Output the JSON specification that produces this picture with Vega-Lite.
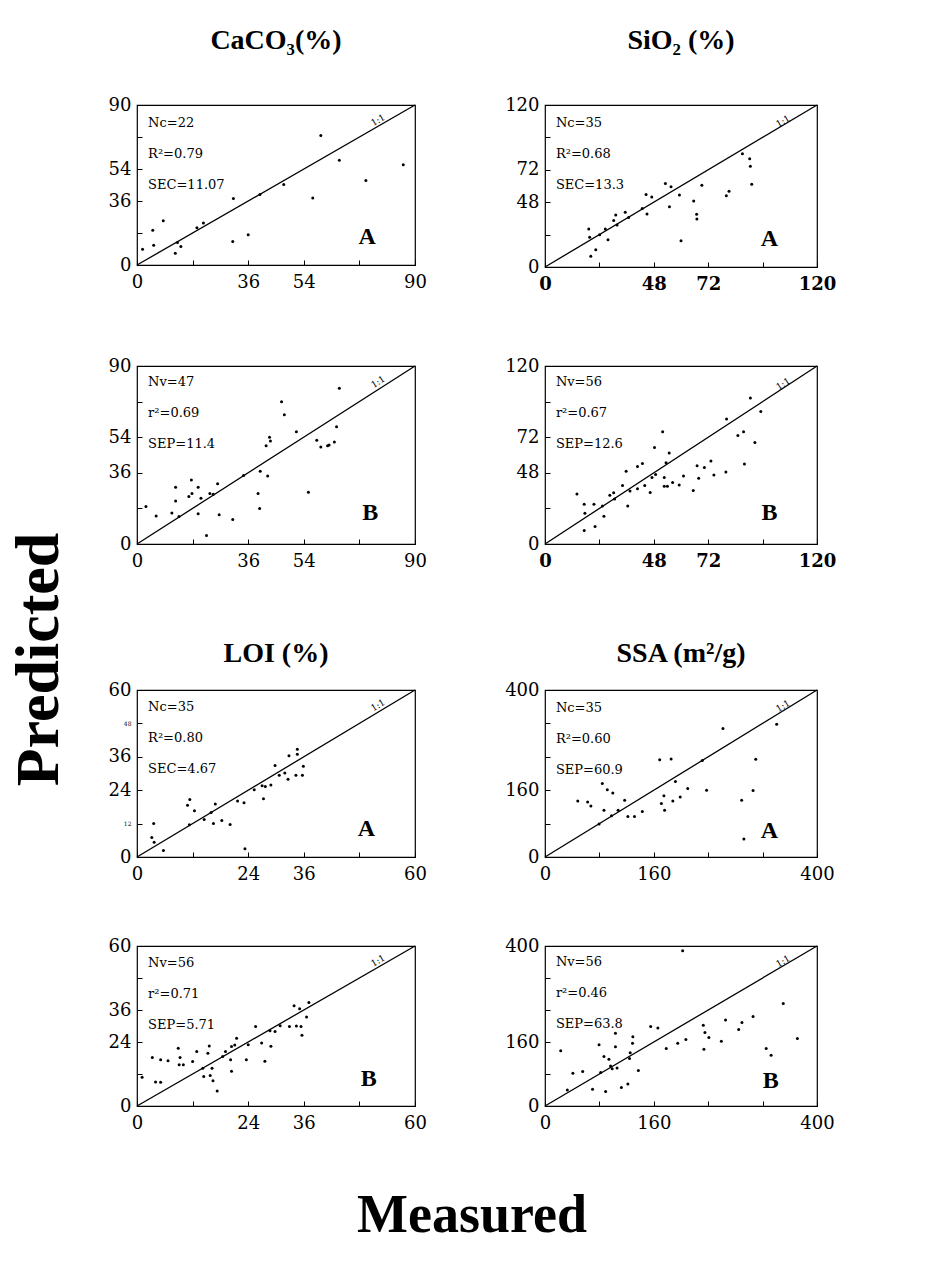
{
"$schema": "https://vega.github.io/schema/vega-lite/v6.json",
"background": "white",
"padding": {"left": 8, "top": 26, "right": 5, "bottom": 5},
"title": {"text": "Predicted", "orient": "left", "font": "Liberation Serif", "fontSize": 62, "fontWeight": "bold", "color": "black", "offset": 36, "anchor": "middle", "dy": 0, "dx": -25},
"datasets": {
"d90": [{"m": 0, "p": 0}, {"m": 90, "p": 90}],
"d120": [{"m": 0, "p": 0}, {"m": 120, "p": 120}],
"d60": [{"m": 0, "p": 0}, {"m": 60, "p": 60}],
"d400": [{"m": 0, "p": 0}, {"m": 400, "p": 400}],
"p1": [{"m":1.8,"p":8.9},{"m":5.4,"p":11.1},{"m":5.1,"p":19.6},{"m":8.5,"p":24.9},{"m":12.4,"p":6.6},{"m":13.1,"p":12.6},{"m":14.2,"p":10.4},{"m":19.4,"p":20.9},{"m":21.5,"p":23.6},{"m":31,"p":13.2},{"m":31.2,"p":37.4},{"m":36,"p":17},{"m":39.8,"p":39.6},{"m":47.5,"p":45.3},{"m":56.9,"p":37.7},{"m":59.5,"p":72.8},{"m":65.5,"p":58.9},{"m":74.1,"p":47.5},{"m":86.2,"p":56.4}],
"p2": [{"m":19.3,"p":28.2},{"m":19.7,"p":22.1},{"m":20.2,"p":7.9},{"m":22.4,"p":12.8},{"m":24.1,"p":23.8},{"m":26.6,"p":28.2},{"m":27.8,"p":20.1},{"m":30.3,"p":34.4},{"m":31.2,"p":38.5},{"m":31.8,"p":31.2},{"m":35.4,"p":40.5},{"m":36.9,"p":36.6},{"m":42.9,"p":43.4},{"m":44.6,"p":53.7},{"m":45.0,"p":39.3},{"m":47.1,"p":51.8},{"m":53.1,"p":61.8},{"m":55.6,"p":59.4},{"m":54.9,"p":44.7},{"m":59.3,"p":53.3},{"m":60,"p":19.4},{"m":65.6,"p":48.8},{"m":66.9,"p":39},{"m":67,"p":35.6},{"m":69.2,"p":60.6},{"m":81.2,"p":56.2},{"m":80.0,"p":52.8},{"m":87.1,"p":83.9},{"m":90.3,"p":80.2},{"m":90.6,"p":74.6},{"m":91.2,"p":61.3}],
"p3": [{"m":2.9,"p":19.0},{"m":6.2,"p":14.2},{"m":11.3,"p":15.7},{"m":12.5,"p":21.8},{"m":12.5,"p":28.7},{"m":13.6,"p":13.9},{"m":16.8,"p":24.0},{"m":17.6,"p":32.3},{"m":17.8,"p":25.5},{"m":19.8,"p":28.7},{"m":19.8,"p":15.3},{"m":20.7,"p":23.1},{"m":22.5,"p":4.3},{"m":23.6,"p":25.5},{"m":24.7,"p":25.1},{"m":26.1,"p":30.5},{"m":26.6,"p":14.8},{"m":31.0,"p":12.4},{"m":34.5,"p":34.6},{"m":39.2,"p":25.5},{"m":39.7,"p":17.9},{"m":39.9,"p":36.8},{"m":42.3,"p":34.4},{"m":41.8,"p":49.7},{"m":42.9,"p":54},{"m":43.2,"p":52.1},{"m":46.8,"p":71.9},{"m":47.7,"p":65.4},{"m":51.6,"p":56.7},{"m":55.5,"p":26.2},{"m":58.2,"p":52.4},{"m":59.5,"p":49.1},{"m":61.7,"p":49.7},{"m":62.2,"p":50.1},{"m":63.9,"p":51.6},{"m":64.6,"p":59.3},{"m":65.5,"p":78.7}],
"p4": [{"m":14.1,"p":33.7},{"m":17.3,"p":26.8},{"m":17.6,"p":20.7},{"m":17.3,"p":9.1},{"m":21.6,"p":26.8},{"m":22.1,"p":11.8},{"m":25.3,"p":25.6},{"m":26,"p":18.7},{"m":28.6,"p":32.8},{"m":30.3,"p":34.5},{"m":30.7,"p":30.3},{"m":34.2,"p":39.4},{"m":35.8,"p":49.0},{"m":36.5,"p":25.6},{"m":37.5,"p":35.7},{"m":40.8,"p":52.2},{"m":43,"p":54.2},{"m":40.8,"p":37.2},{"m":44,"p":39.4},{"m":46.4,"p":34.7},{"m":47.2,"p":44.8},{"m":48.3,"p":65.0},{"m":48.8,"p":46.8},{"m":51.9,"p":75.6},{"m":52.6,"p":44.8},{"m":53.4,"p":54.7},{"m":54.8,"p":61.3},{"m":52.6,"p":38.9},{"m":54.0,"p":38.9},{"m":56.3,"p":41.4},{"m":59.2,"p":39.7},{"m":61.1,"p":45.8},{"m":65.4,"p":36.0},{"m":67.1,"p":52.8},{"m":67.8,"p":44.4},{"m":70.3,"p":51.5},{"m":73.2,"p":55.9},{"m":74.5,"p":46.6},{"m":79.8,"p":48.5},{"m":80.1,"p":84.2},{"m":85.1,"p":73.1},{"m":87.6,"p":75.6},{"m":88.0,"p":53.9},{"m":92.6,"p":68.5},{"m":90.6,"p":98.5},{"m":95.2,"p":89.4}],
"p5": [{"m":3.2,"p":7.0},{"m":3.7,"p":5.3},{"m":3.6,"p":12.0},{"m":5.7,"p":2.3},{"m":10.9,"p":18.6},{"m":11.4,"p":20.7},{"m":12.4,"p":16.6},{"m":11.3,"p":11.6},{"m":14.5,"p":13.5},{"m":16,"p":16.0},{"m":16.5,"p":12.0},{"m":16.9,"p":19.0},{"m":18.3,"p":13.1},{"m":20.1,"p":11.7},{"m":21.7,"p":20.1},{"m":23.1,"p":19.5},{"m":23.3,"p":3.0},{"m":25.3,"p":24.2},{"m":27,"p":25.6},{"m":27.3,"p":20.9},{"m":27.7,"p":25.3},{"m":28.9,"p":25.9},{"m":29.8,"p":32.9},{"m":30.7,"p":29.4},{"m":31.9,"p":30.2},{"m":32.6,"p":27.9},{"m":32.8,"p":36.4},{"m":34.6,"p":36.9},{"m":34.6,"p":38.7},{"m":35.7,"p":29.4},{"m":35.9,"p":32.6},{"m":34.3,"p":29.4}],
"p6": [{"m":48.2,"p":134},{"m":62.7,"p":132},{"m":67.5,"p":122},{"m":84.3,"p":176},{"m":86.7,"p":112},{"m":91.6,"p":161},{"m":99.7,"p":153},{"m":97.8,"p":99},{"m":79.5,"p":79},{"m":107.5,"p":112},{"m":117.1,"p":136},{"m":121.9,"p":97},{"m":131.6,"p":97},{"m":143.1,"p":109},{"m":168.7,"p":233},{"m":185.5,"p":235},{"m":171.1,"p":128},{"m":174.9,"p":147},{"m":175.9,"p":112},{"m":188,"p":134},{"m":191.8,"p":181},{"m":198.8,"p":144},{"m":209.9,"p":164},{"m":231.3,"p":231},{"m":237.6,"p":160},{"m":261.7,"p":308},{"m":289.2,"p":136},{"m":306,"p":159},{"m":309.9,"p":234},{"m":292.5,"p":43},{"m":340.7,"p":318}],
"p7": [{"m":1.1,"p":10.8},{"m":3.3,"p":18.2},{"m":4.0,"p":9.0},{"m":5.1,"p":8.9},{"m":5.1,"p":17.3},{"m":6.7,"p":17.0},{"m":8.9,"p":21.7},{"m":9.3,"p":18.2},{"m":9.1,"p":15.5},{"m":10.0,"p":15.5},{"m":12,"p":16.7},{"m":12.9,"p":20.4},{"m":14.2,"p":14.2},{"m":14.4,"p":11.1},{"m":15.3,"p":19.8},{"m":15.6,"p":22.5},{"m":15.8,"p":11.4},{"m":16.2,"p":14.2},{"m":16.4,"p":9.5},{"m":17.3,"p":5.6},{"m":18.5,"p":18.6},{"m":19.1,"p":20.4},{"m":20.2,"p":17.3},{"m":20.4,"p":13.0},{"m":20.4,"p":22.3},{"m":21.1,"p":22.9},{"m":21.5,"p":25.4},{"m":23.6,"p":17.3},{"m":24.0,"p":23.0},{"m":25.6,"p":29.8},{"m":26.9,"p":23.6},{"m":27.6,"p":16.8},{"m":28.7,"p":28.2},{"m":28.9,"p":22.4},{"m":29.8,"p":27.9},{"m":30.9,"p":30.1},{"m":32.9,"p":29.8},{"m":33.9,"p":37.6},{"m":34.4,"p":30.0},{"m":35.4,"p":29.8},{"m":35.1,"p":36.5},{"m":35.6,"p":26.5},{"m":36.6,"p":33.4},{"m":37.1,"p":38.8}],
"p8": [{"m":23.1,"p":138},{"m":32.8,"p":40},{"m":41.0,"p":82},{"m":55.4,"p":86},{"m":69.9,"p":42},{"m":79.5,"p":153},{"m":81.9,"p":84},{"m":86.7,"p":124},{"m":89.2,"p":36},{"m":94,"p":117},{"m":96.4,"p":100},{"m":98.8,"p":93},{"m":103.6,"p":182},{"m":103.6,"p":148},{"m":106,"p":95},{"m":112.3,"p":46},{"m":121.9,"p":55},{"m":124.3,"p":119},{"m":125.3,"p":133},{"m":128.7,"p":157},{"m":129.2,"p":173},{"m":137.3,"p":89},{"m":155.4,"p":199},{"m":166,"p":195},{"m":178.3,"p":144},{"m":195.2,"p":157},{"m":202.4,"p":388},{"m":207.2,"p":166},{"m":232.8,"p":202},{"m":235.2,"p":184},{"m":241,"p":171},{"m":233.7,"p":142},{"m":259.3,"p":162},{"m":265.5,"p":215},{"m":284.8,"p":191},{"m":289.6,"p":209},{"m":306,"p":224},{"m":325.3,"p":144},{"m":332.5,"p":127},{"m":350.4,"p":256},{"m":371.1,"p":169}]
},
"config": {
"view": {"stroke": "black", "strokeWidth": 1.2},
"axis": {"domain": false, "grid": false, "tickColor": "black", "tickSize": -5, "tickWidth": 1, "labelFont": "DejaVu Serif", "labelFontSize": 18, "labelColor": "black", "labelPadding": 11, "labelFlush": false, "labelOverlap": false, "labelBound": false},
"axisX": {"labelPadding": 13},
"circle": {"color": "black", "size": 9, "opacity": 1},
"line": {"color": "black", "strokeWidth": 1.3},
"text": {"font": "DejaVu Serif", "fontSize": 13, "color": "black"},
"title": {"font": "Liberation Serif", "fontWeight": "bold", "color": "black"}
},
"vconcat": [{
"title": {"text": "Measured", "orient": "bottom", "font": "Liberation Serif", "fontSize": 54, "fontWeight": "bold", "offset": 56, "anchor": "middle"},
"spacing": 68,
"vconcat": [
{"spacing": 62, "vconcat": [
{"spacing": 76, "hconcat": [
{"width": 278, "height": 160,
 "title": {"text": "CaCO₃(%)", "fontSize": 28, "offset": 41, "frame": "group", "anchor": "middle"},
 "layer": [
  {"data": {"name": "d90"}, "mark": "line", "encoding": {
   "x": {"field": "m", "type": "quantitative", "scale": {"domain": [0, 90], "nice": false}, "axis": {"title": null, "labelOverlap": false, "values": [0, 18, 36, 54, 72, 90], "labelExpr": "datum.value==18||datum.value==72?'':datum.label"}},
   "y": {"field": "p", "type": "quantitative", "scale": {"domain": [0, 90], "nice": false}, "axis": {"title": null, "labelOverlap": false, "values": [0, 18, 36, 54, 72, 90], "labelExpr": "datum.value==18||datum.value==72?'':datum.label"}}}},
  {"data": {"name": "p1"}, "mark": "circle", "encoding": {
   "x": {"field": "m", "type": "quantitative", "axis": {"title": null, "labelOverlap": false, "values": [0, 18, 36, 54, 72, 90], "labelExpr": "datum.value==18||datum.value==72?'':datum.label"}},
   "y": {"field": "p", "type": "quantitative", "axis": {"title": null, "labelOverlap": false, "values": [0, 18, 36, 54, 72, 90], "labelExpr": "datum.value==18||datum.value==72?'':datum.label"}}}},
  {"data": {"values": [{}]}, "mark": {"type": "text", "text": ["Nc=22", "R²=0.79", "SEC=11.07"], "align": "left", "baseline": "top", "lineHeight": 31}, "encoding": {
   "x": {"datum": 3.6, "axis": {"title": null, "labelOverlap": false, "values": [0, 18, 36, 54, 72, 90], "labelExpr": "datum.value==18||datum.value==72?'':datum.label"}},
   "y": {"datum": 83, "axis": {"title": null, "labelOverlap": false, "values": [0, 18, 36, 54, 72, 90], "labelExpr": "datum.value==18||datum.value==72?'':datum.label"}}}},
  {"data": {"values": [{}]}, "mark": {"type": "text", "text": "A", "font": "Liberation Serif", "fontSize": 24, "fontWeight": "bold"}, "encoding": {
   "x": {"datum": 74.5, "axis": {"title": null, "labelOverlap": false, "values": [0, 18, 36, 54, 72, 90], "labelExpr": "datum.value==18||datum.value==72?'':datum.label"}},
   "y": {"datum": 15.5, "axis": {"title": null, "labelOverlap": false, "values": [0, 18, 36, 54, 72, 90], "labelExpr": "datum.value==18||datum.value==72?'':datum.label"}}}},
  {"data": {"values": [{}]}, "mark": {"type": "text", "text": "1:1", "fontSize": 9, "angle": -30}, "encoding": {
   "x": {"datum": 78, "axis": {"title": null, "labelOverlap": false, "values": [0, 18, 36, 54, 72, 90], "labelExpr": "datum.value==18||datum.value==72?'':datum.label"}},
   "y": {"datum": 81.5, "axis": {"title": null, "labelOverlap": false, "values": [0, 18, 36, 54, 72, 90], "labelExpr": "datum.value==18||datum.value==72?'':datum.label"}}}}
 ]},
{"width": 272, "height": 162,
 "title": {"text": "SiO₂ (%)", "fontSize": 28, "offset": 41, "frame": "group", "anchor": "middle"},
 "layer": [
  {"data": {"name": "d120"}, "mark": "line", "encoding": {
   "x": {"field": "m", "type": "quantitative", "scale": {"domain": [0, 120], "nice": false}, "axis": {"title": null, "labelOverlap": false, "values": [0, 24, 48, 72, 96, 120], "labelFontWeight": "bold", "labelExpr": "datum.value==24||datum.value==96?'':datum.label"}},
   "y": {"field": "p", "type": "quantitative", "scale": {"domain": [0, 120], "nice": false}, "axis": {"title": null, "labelOverlap": false, "values": [0, 24, 48, 72, 96, 120], "labelExpr": "datum.value==24||datum.value==96?'':datum.label"}}}},
  {"data": {"name": "p2"}, "mark": "circle", "encoding": {
   "x": {"field": "m", "type": "quantitative", "axis": {"title": null, "labelOverlap": false, "values": [0, 24, 48, 72, 96, 120], "labelFontWeight": "bold", "labelExpr": "datum.value==24||datum.value==96?'':datum.label"}},
   "y": {"field": "p", "type": "quantitative", "axis": {"title": null, "labelOverlap": false, "values": [0, 24, 48, 72, 96, 120], "labelExpr": "datum.value==24||datum.value==96?'':datum.label"}}}},
  {"data": {"values": [{}]}, "mark": {"type": "text", "text": ["Nc=35", "R²=0.68", "SEC=13.3"], "align": "left", "baseline": "top", "lineHeight": 31}, "encoding": {
   "x": {"datum": 4.8, "axis": {"title": null, "labelOverlap": false, "values": [0, 24, 48, 72, 96, 120], "labelFontWeight": "bold", "labelExpr": "datum.value==24||datum.value==96?'':datum.label"}},
   "y": {"datum": 111, "axis": {"title": null, "labelOverlap": false, "values": [0, 24, 48, 72, 96, 120], "labelExpr": "datum.value==24||datum.value==96?'':datum.label"}}}},
  {"data": {"values": [{}]}, "mark": {"type": "text", "text": "A", "font": "Liberation Serif", "fontSize": 24, "fontWeight": "bold"}, "encoding": {
   "x": {"datum": 99, "axis": {"title": null, "labelOverlap": false, "values": [0, 24, 48, 72, 96, 120], "labelFontWeight": "bold", "labelExpr": "datum.value==24||datum.value==96?'':datum.label"}},
   "y": {"datum": 21, "axis": {"title": null, "labelOverlap": false, "values": [0, 24, 48, 72, 96, 120], "labelExpr": "datum.value==24||datum.value==96?'':datum.label"}}}},
  {"data": {"values": [{}]}, "mark": {"type": "text", "text": "1:1", "fontSize": 9, "angle": -30}, "encoding": {
   "x": {"datum": 105, "axis": {"title": null, "labelOverlap": false, "values": [0, 24, 48, 72, 96, 120], "labelFontWeight": "bold", "labelExpr": "datum.value==24||datum.value==96?'':datum.label"}},
   "y": {"datum": 108, "axis": {"title": null, "labelOverlap": false, "values": [0, 24, 48, 72, 96, 120], "labelExpr": "datum.value==24||datum.value==96?'':datum.label"}}}}
 ]}
]},
{"spacing": 76, "hconcat": [
{"width": 278, "height": 178,
 "layer": [
  {"data": {"name": "d90"}, "mark": "line", "encoding": {
   "x": {"field": "m", "type": "quantitative", "scale": {"domain": [0, 90], "nice": false}, "axis": {"title": null, "labelOverlap": false, "values": [0, 18, 36, 54, 72, 90], "labelExpr": "datum.value==18||datum.value==72?'':datum.label"}},
   "y": {"field": "p", "type": "quantitative", "scale": {"domain": [0, 90], "nice": false}, "axis": {"title": null, "labelOverlap": false, "values": [0, 18, 36, 54, 72, 90], "labelExpr": "datum.value==18||datum.value==72?'':datum.label"}}}},
  {"data": {"name": "p3"}, "mark": "circle", "encoding": {
   "x": {"field": "m", "type": "quantitative", "axis": {"title": null, "labelOverlap": false, "values": [0, 18, 36, 54, 72, 90], "labelExpr": "datum.value==18||datum.value==72?'':datum.label"}},
   "y": {"field": "p", "type": "quantitative", "axis": {"title": null, "labelOverlap": false, "values": [0, 18, 36, 54, 72, 90], "labelExpr": "datum.value==18||datum.value==72?'':datum.label"}}}},
  {"data": {"values": [{}]}, "mark": {"type": "text", "text": ["Nv=47", "r²=0.69", "SEP=11.4"], "align": "left", "baseline": "top", "lineHeight": 31}, "encoding": {
   "x": {"datum": 3.6, "axis": {"title": null, "labelOverlap": false, "values": [0, 18, 36, 54, 72, 90], "labelExpr": "datum.value==18||datum.value==72?'':datum.label"}},
   "y": {"datum": 85, "axis": {"title": null, "labelOverlap": false, "values": [0, 18, 36, 54, 72, 90], "labelExpr": "datum.value==18||datum.value==72?'':datum.label"}}}},
  {"data": {"values": [{}]}, "mark": {"type": "text", "text": "B", "font": "Liberation Serif", "fontSize": 24, "fontWeight": "bold"}, "encoding": {
   "x": {"datum": 75.5, "axis": {"title": null, "labelOverlap": false, "values": [0, 18, 36, 54, 72, 90], "labelExpr": "datum.value==18||datum.value==72?'':datum.label"}},
   "y": {"datum": 15.5, "axis": {"title": null, "labelOverlap": false, "values": [0, 18, 36, 54, 72, 90], "labelExpr": "datum.value==18||datum.value==72?'':datum.label"}}}},
  {"data": {"values": [{}]}, "mark": {"type": "text", "text": "1:1", "fontSize": 9, "angle": -32}, "encoding": {
   "x": {"datum": 78, "axis": {"title": null, "labelOverlap": false, "values": [0, 18, 36, 54, 72, 90], "labelExpr": "datum.value==18||datum.value==72?'':datum.label"}},
   "y": {"datum": 82, "axis": {"title": null, "labelOverlap": false, "values": [0, 18, 36, 54, 72, 90], "labelExpr": "datum.value==18||datum.value==72?'':datum.label"}}}}
 ]},
{"width": 272, "height": 178,
 "layer": [
  {"data": {"name": "d120"}, "mark": "line", "encoding": {
   "x": {"field": "m", "type": "quantitative", "scale": {"domain": [0, 120], "nice": false}, "axis": {"title": null, "labelOverlap": false, "values": [0, 24, 48, 72, 96, 120], "labelFontWeight": "bold", "labelExpr": "datum.value==24||datum.value==96?'':datum.label"}},
   "y": {"field": "p", "type": "quantitative", "scale": {"domain": [0, 120], "nice": false}, "axis": {"title": null, "labelOverlap": false, "values": [0, 24, 48, 72, 96, 120], "labelExpr": "datum.value==24||datum.value==96?'':datum.label"}}}},
  {"data": {"name": "p4"}, "mark": "circle", "encoding": {
   "x": {"field": "m", "type": "quantitative", "axis": {"title": null, "labelOverlap": false, "values": [0, 24, 48, 72, 96, 120], "labelFontWeight": "bold", "labelExpr": "datum.value==24||datum.value==96?'':datum.label"}},
   "y": {"field": "p", "type": "quantitative", "axis": {"title": null, "labelOverlap": false, "values": [0, 24, 48, 72, 96, 120], "labelExpr": "datum.value==24||datum.value==96?'':datum.label"}}}},
  {"data": {"values": [{}]}, "mark": {"type": "text", "text": ["Nv=56", "r²=0.67", "SEP=12.6"], "align": "left", "baseline": "top", "lineHeight": 31}, "encoding": {
   "x": {"datum": 4.8, "axis": {"title": null, "labelOverlap": false, "values": [0, 24, 48, 72, 96, 120], "labelFontWeight": "bold", "labelExpr": "datum.value==24||datum.value==96?'':datum.label"}},
   "y": {"datum": 113, "axis": {"title": null, "labelOverlap": false, "values": [0, 24, 48, 72, 96, 120], "labelExpr": "datum.value==24||datum.value==96?'':datum.label"}}}},
  {"data": {"values": [{}]}, "mark": {"type": "text", "text": "B", "font": "Liberation Serif", "fontSize": 24, "fontWeight": "bold"}, "encoding": {
   "x": {"datum": 99, "axis": {"title": null, "labelOverlap": false, "values": [0, 24, 48, 72, 96, 120], "labelFontWeight": "bold", "labelExpr": "datum.value==24||datum.value==96?'':datum.label"}},
   "y": {"datum": 21, "axis": {"title": null, "labelOverlap": false, "values": [0, 24, 48, 72, 96, 120], "labelExpr": "datum.value==24||datum.value==96?'':datum.label"}}}},
  {"data": {"values": [{}]}, "mark": {"type": "text", "text": "1:1", "fontSize": 9, "angle": -32}, "encoding": {
   "x": {"datum": 105, "axis": {"title": null, "labelOverlap": false, "values": [0, 24, 48, 72, 96, 120], "labelFontWeight": "bold", "labelExpr": "datum.value==24||datum.value==96?'':datum.label"}},
   "y": {"datum": 108, "axis": {"title": null, "labelOverlap": false, "values": [0, 24, 48, 72, 96, 120], "labelExpr": "datum.value==24||datum.value==96?'':datum.label"}}}}
 ]}
]}
]},
{"spacing": 52, "vconcat": [
{"spacing": 76, "hconcat": [
{"width": 278, "height": 167,
 "title": {"text": "LOI (%)", "fontSize": 28, "offset": 13, "frame": "group", "anchor": "middle"},
 "layer": [
  {"data": {"name": "d60"}, "mark": "line", "encoding": {
   "x": {"field": "m", "type": "quantitative", "scale": {"domain": [0, 60], "nice": false}, "axis": {"title": null, "labelOverlap": false, "values": [0, 12, 24, 36, 48, 60], "labelExpr": "datum.value==12||datum.value==48?'':datum.label"}},
   "y": {"field": "p", "type": "quantitative", "scale": {"domain": [0, 60], "nice": false}, "axis": {"title": null, "labelOverlap": false, "values": [0, 12, 24, 36, 48, 60], "labelFontSize": {"condition": {"test": "datum.value==12||datum.value==48", "value": 6}, "value": 18}}}}},
  {"data": {"name": "p5"}, "mark": "circle", "encoding": {
   "x": {"field": "m", "type": "quantitative", "axis": {"title": null, "labelOverlap": false, "values": [0, 12, 24, 36, 48, 60], "labelExpr": "datum.value==12||datum.value==48?'':datum.label"}},
   "y": {"field": "p", "type": "quantitative", "axis": {"title": null, "labelOverlap": false, "values": [0, 12, 24, 36, 48, 60], "labelFontSize": {"condition": {"test": "datum.value==12||datum.value==48", "value": 6}, "value": 18}}}}},
  {"data": {"values": [{}]}, "mark": {"type": "text", "text": ["Nc=35", "R²=0.80", "SEC=4.67"], "align": "left", "baseline": "top", "lineHeight": 31}, "encoding": {
   "x": {"datum": 2.4, "axis": {"title": null, "labelOverlap": false, "values": [0, 12, 24, 36, 48, 60], "labelExpr": "datum.value==12||datum.value==48?'':datum.label"}},
   "y": {"datum": 56, "axis": {"title": null, "labelOverlap": false, "values": [0, 12, 24, 36, 48, 60], "labelFontSize": {"condition": {"test": "datum.value==12||datum.value==48", "value": 6}, "value": 18}}}}},
  {"data": {"values": [{}]}, "mark": {"type": "text", "text": "A", "font": "Liberation Serif", "fontSize": 24, "fontWeight": "bold"}, "encoding": {
   "x": {"datum": 49.5, "axis": {"title": null, "labelOverlap": false, "values": [0, 12, 24, 36, 48, 60], "labelExpr": "datum.value==12||datum.value==48?'':datum.label"}},
   "y": {"datum": 10, "axis": {"title": null, "labelOverlap": false, "values": [0, 12, 24, 36, 48, 60], "labelFontSize": {"condition": {"test": "datum.value==12||datum.value==48", "value": 6}, "value": 18}}}}},
  {"data": {"values": [{}]}, "mark": {"type": "text", "text": "1:1", "fontSize": 9, "angle": -31}, "encoding": {
   "x": {"datum": 52, "axis": {"title": null, "labelOverlap": false, "values": [0, 12, 24, 36, 48, 60], "labelExpr": "datum.value==12||datum.value==48?'':datum.label"}},
   "y": {"datum": 54.5, "axis": {"title": null, "labelOverlap": false, "values": [0, 12, 24, 36, 48, 60], "labelFontSize": {"condition": {"test": "datum.value==12||datum.value==48", "value": 6}, "value": 18}}}}}
 ]},
{"width": 272, "height": 167,
 "title": {"text": "SSA (m²/g)", "fontSize": 28, "offset": 13, "frame": "group", "anchor": "middle"},
 "layer": [
  {"data": {"name": "d400"}, "mark": "line", "encoding": {
   "x": {"field": "m", "type": "quantitative", "scale": {"domain": [0, 400], "nice": false}, "axis": {"title": null, "labelOverlap": false, "values": [0, 80, 160, 240, 320, 400], "labelExpr": "datum.value==80||datum.value==240||datum.value==320?'':datum.label"}},
   "y": {"field": "p", "type": "quantitative", "scale": {"domain": [0, 400], "nice": false}, "axis": {"title": null, "labelOverlap": false, "values": [0, 80, 160, 240, 320, 400], "labelExpr": "datum.value==80||datum.value==240||datum.value==320?'':datum.label"}}}},
  {"data": {"name": "p6"}, "mark": "circle", "encoding": {
   "x": {"field": "m", "type": "quantitative", "axis": {"title": null, "labelOverlap": false, "values": [0, 80, 160, 240, 320, 400], "labelExpr": "datum.value==80||datum.value==240||datum.value==320?'':datum.label"}},
   "y": {"field": "p", "type": "quantitative", "axis": {"title": null, "labelOverlap": false, "values": [0, 80, 160, 240, 320, 400], "labelExpr": "datum.value==80||datum.value==240||datum.value==320?'':datum.label"}}}},
  {"data": {"values": [{}]}, "mark": {"type": "text", "text": ["Nc=35", "R²=0.60", "SEP=60.9"], "align": "left", "baseline": "top", "lineHeight": 31}, "encoding": {
   "x": {"datum": 16, "axis": {"title": null, "labelOverlap": false, "values": [0, 80, 160, 240, 320, 400], "labelExpr": "datum.value==80||datum.value==240||datum.value==320?'':datum.label"}},
   "y": {"datum": 372, "axis": {"title": null, "labelOverlap": false, "values": [0, 80, 160, 240, 320, 400], "labelExpr": "datum.value==80||datum.value==240||datum.value==320?'':datum.label"}}}},
  {"data": {"values": [{}]}, "mark": {"type": "text", "text": "A", "font": "Liberation Serif", "fontSize": 24, "fontWeight": "bold"}, "encoding": {
   "x": {"datum": 330, "axis": {"title": null, "labelOverlap": false, "values": [0, 80, 160, 240, 320, 400], "labelExpr": "datum.value==80||datum.value==240||datum.value==320?'':datum.label"}},
   "y": {"datum": 62, "axis": {"title": null, "labelOverlap": false, "values": [0, 80, 160, 240, 320, 400], "labelExpr": "datum.value==80||datum.value==240||datum.value==320?'':datum.label"}}}},
  {"data": {"values": [{}]}, "mark": {"type": "text", "text": "1:1", "fontSize": 9, "angle": -31}, "encoding": {
   "x": {"datum": 350, "axis": {"title": null, "labelOverlap": false, "values": [0, 80, 160, 240, 320, 400], "labelExpr": "datum.value==80||datum.value==240||datum.value==320?'':datum.label"}},
   "y": {"datum": 362, "axis": {"title": null, "labelOverlap": false, "values": [0, 80, 160, 240, 320, 400], "labelExpr": "datum.value==80||datum.value==240||datum.value==320?'':datum.label"}}}}
 ]}
]},
{"spacing": 76, "hconcat": [
{"width": 278, "height": 160,
 "layer": [
  {"data": {"name": "d60"}, "mark": "line", "encoding": {
   "x": {"field": "m", "type": "quantitative", "scale": {"domain": [0, 60], "nice": false}, "axis": {"title": null, "labelOverlap": false, "values": [0, 12, 24, 36, 48, 60], "labelExpr": "datum.value==12||datum.value==48?'':datum.label"}},
   "y": {"field": "p", "type": "quantitative", "scale": {"domain": [0, 60], "nice": false}, "axis": {"title": null, "labelOverlap": false, "values": [0, 12, 24, 36, 48, 60], "labelExpr": "datum.value==12||datum.value==48?'':datum.label"}}}},
  {"data": {"name": "p7"}, "mark": "circle", "encoding": {
   "x": {"field": "m", "type": "quantitative", "axis": {"title": null, "labelOverlap": false, "values": [0, 12, 24, 36, 48, 60], "labelExpr": "datum.value==12||datum.value==48?'':datum.label"}},
   "y": {"field": "p", "type": "quantitative", "axis": {"title": null, "labelOverlap": false, "values": [0, 12, 24, 36, 48, 60], "labelExpr": "datum.value==12||datum.value==48?'':datum.label"}}}},
  {"data": {"values": [{}]}, "mark": {"type": "text", "text": ["Nv=56", "r²=0.71", "SEP=5.71"], "align": "left", "baseline": "top", "lineHeight": 31}, "encoding": {
   "x": {"datum": 2.4, "axis": {"title": null, "labelOverlap": false, "values": [0, 12, 24, 36, 48, 60], "labelExpr": "datum.value==12||datum.value==48?'':datum.label"}},
   "y": {"datum": 56, "axis": {"title": null, "labelOverlap": false, "values": [0, 12, 24, 36, 48, 60], "labelExpr": "datum.value==12||datum.value==48?'':datum.label"}}}},
  {"data": {"values": [{}]}, "mark": {"type": "text", "text": "B", "font": "Liberation Serif", "fontSize": 24, "fontWeight": "bold"}, "encoding": {
   "x": {"datum": 50, "axis": {"title": null, "labelOverlap": false, "values": [0, 12, 24, 36, 48, 60], "labelExpr": "datum.value==12||datum.value==48?'':datum.label"}},
   "y": {"datum": 10, "axis": {"title": null, "labelOverlap": false, "values": [0, 12, 24, 36, 48, 60], "labelExpr": "datum.value==12||datum.value==48?'':datum.label"}}}},
  {"data": {"values": [{}]}, "mark": {"type": "text", "text": "1:1", "fontSize": 9, "angle": -30}, "encoding": {
   "x": {"datum": 52, "axis": {"title": null, "labelOverlap": false, "values": [0, 12, 24, 36, 48, 60], "labelExpr": "datum.value==12||datum.value==48?'':datum.label"}},
   "y": {"datum": 54.5, "axis": {"title": null, "labelOverlap": false, "values": [0, 12, 24, 36, 48, 60], "labelExpr": "datum.value==12||datum.value==48?'':datum.label"}}}}
 ]},
{"width": 272, "height": 160,
 "layer": [
  {"data": {"name": "d400"}, "mark": "line", "encoding": {
   "x": {"field": "m", "type": "quantitative", "scale": {"domain": [0, 400], "nice": false}, "axis": {"title": null, "labelOverlap": false, "values": [0, 80, 160, 240, 320, 400], "labelExpr": "datum.value==80||datum.value==240||datum.value==320?'':datum.label"}},
   "y": {"field": "p", "type": "quantitative", "scale": {"domain": [0, 400], "nice": false}, "axis": {"title": null, "labelOverlap": false, "values": [0, 80, 160, 240, 320, 400], "labelExpr": "datum.value==80||datum.value==240||datum.value==320?'':datum.label"}}}},
  {"data": {"name": "p8"}, "mark": "circle", "encoding": {
   "x": {"field": "m", "type": "quantitative", "axis": {"title": null, "labelOverlap": false, "values": [0, 80, 160, 240, 320, 400], "labelExpr": "datum.value==80||datum.value==240||datum.value==320?'':datum.label"}},
   "y": {"field": "p", "type": "quantitative", "axis": {"title": null, "labelOverlap": false, "values": [0, 80, 160, 240, 320, 400], "labelExpr": "datum.value==80||datum.value==240||datum.value==320?'':datum.label"}}}},
  {"data": {"values": [{}]}, "mark": {"type": "text", "text": ["Nv=56", "r²=0.46", "SEP=63.8"], "align": "left", "baseline": "top", "lineHeight": 31}, "encoding": {
   "x": {"datum": 16, "axis": {"title": null, "labelOverlap": false, "values": [0, 80, 160, 240, 320, 400], "labelExpr": "datum.value==80||datum.value==240||datum.value==320?'':datum.label"}},
   "y": {"datum": 374, "axis": {"title": null, "labelOverlap": false, "values": [0, 80, 160, 240, 320, 400], "labelExpr": "datum.value==80||datum.value==240||datum.value==320?'':datum.label"}}}},
  {"data": {"values": [{}]}, "mark": {"type": "text", "text": "B", "font": "Liberation Serif", "fontSize": 24, "fontWeight": "bold"}, "encoding": {
   "x": {"datum": 332, "axis": {"title": null, "labelOverlap": false, "values": [0, 80, 160, 240, 320, 400], "labelExpr": "datum.value==80||datum.value==240||datum.value==320?'':datum.label"}},
   "y": {"datum": 62, "axis": {"title": null, "labelOverlap": false, "values": [0, 80, 160, 240, 320, 400], "labelExpr": "datum.value==80||datum.value==240||datum.value==320?'':datum.label"}}}},
  {"data": {"values": [{}]}, "mark": {"type": "text", "text": "1:1", "fontSize": 9, "angle": -30}, "encoding": {
   "x": {"datum": 350, "axis": {"title": null, "labelOverlap": false, "values": [0, 80, 160, 240, 320, 400], "labelExpr": "datum.value==80||datum.value==240||datum.value==320?'':datum.label"}},
   "y": {"datum": 362, "axis": {"title": null, "labelOverlap": false, "values": [0, 80, 160, 240, 320, 400], "labelExpr": "datum.value==80||datum.value==240||datum.value==320?'':datum.label"}}}}
 ]}
]}
]}
]
}]
}
